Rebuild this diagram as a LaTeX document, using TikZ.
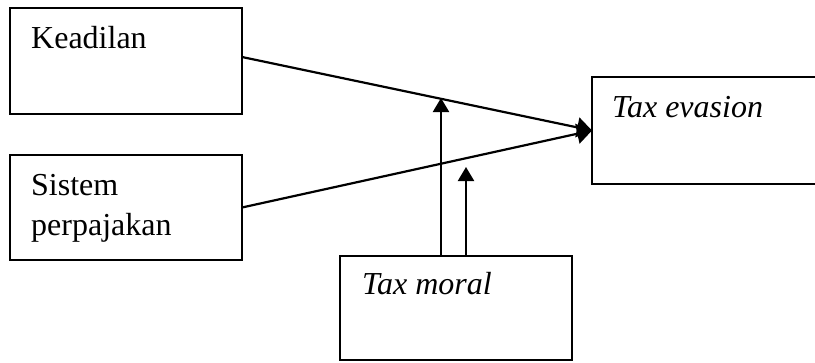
\documentclass[tikz,border=0pt]{standalone}
\usepackage{fontspec}
\setmainfont{Liberation Serif}
\usetikzlibrary{arrows.meta}
\begin{document}
\begin{tikzpicture}[x=1pt,y=-1pt,
  boxnode/.style={draw,line width=1.6pt,inner sep=0pt,outer sep=0pt},
  lbl/.style={inner sep=0pt,anchor=base west,font=\fontsize{32}{38}\selectfont},
  conn/.style={line width=2.2pt,-{Triangle[length=15pt,width=20pt]}},
  vconn/.style={line width=2.2pt,-{Triangle[length=14pt,width=16pt]}}]
\useasboundingbox (0,0) rectangle (815,362);
\clip (0,0) rectangle (815,362);
\node[boxnode,minimum width=232pt,minimum height=106pt] (kead) at (126,61) {};
\node[boxnode,minimum width=232pt,minimum height=105pt] (sis) at (126,207.5) {};
\node[boxnode,minimum width=238pt,minimum height=107pt] (tev) at (711,130.5) {};
\node[boxnode,minimum width=232pt,minimum height=104pt] (mor) at (456,308) {};
\node[lbl] (tkead) at (31,48) {Keadilan};
\node[lbl] (tsis1) at (31,195) {Sistem};
\node[lbl] (tsis2) at (31,235) {perpajakan};
\node[lbl] (ttev) at (612,117) {\itshape Tax evasion};
\node[lbl] (tmor) at (362,294) {\itshape Tax moral};
\coordinate (m1) at (441,256);
\coordinate (m2) at (466,256);
\coordinate (t1) at (441,98);
\coordinate (t2) at (466,167);
\draw[conn] ([yshift=4pt]kead.east) -- (tev.west);
\draw[conn] (sis.east) -- (tev.west);
\draw[vconn] (m1) -- (t1);
\draw[vconn] (m2) -- (t2);
\end{tikzpicture}
\end{document}
